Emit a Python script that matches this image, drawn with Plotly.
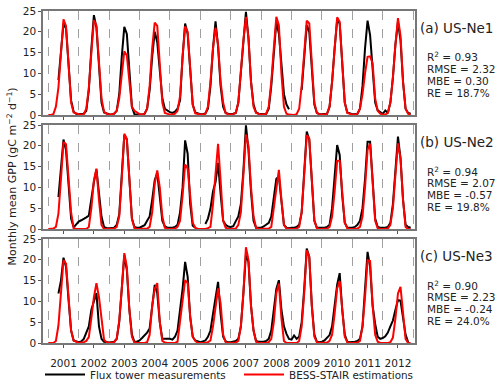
import plotly.graph_objects as go

N = None
years = list(range(2001, 2013))
months = list(range(12))
year_labels = [str(y) for y in years]
boundaries = list(range(2001, 2014))

# Monthly mean GPP (gC m-2 d-1), Jan..Dec for each year 2001-2012
ne1_flux = [
    N, N, N, N, 8.4, 16, 22, 20.8, 12, 3.5, 0.8, 0.3,
    0.2, 0.2, 0.3, 1, 6, 16, 24, 21, 12, 3, 0.6, 0.3,
    0.2, 0.1, 0.3, 1, 5, 14, 21.2, 19.5, 10, 2, 0.2, 0.1,
    0.1, 0.1, 0.3, 1.5, 6, 14, 20, 17.5, 10, 4, 1.5, 1.0,
    0.7, 0.5, 0.8, 1.5, 3.5, 14, 22, 19.5, 10, 2.5, 0.6, 0.3,
    0.2, 0.2, 0.4, 1.5, 7, 16, 22.5, 16.5, 7, 2, 0.5, 0.3,
    0.2, 0.3, 0.5, 3, 10, 19, 24.8, 18.5, 8, 2.5, 0.6, 0.3,
    0.2, 0.2, 0.3, 1.5, 7, 15, 22.4, 19.6, 12, 5, 2.5, 1.4,
    N, N, N, N, 6, 15, 21.6, 20, 11, 2.5, 0.5, 0.2,
    0.2, 0.2, 0.3, 2, 8, 16, 22.8, 22, 12, 3, 0.6, 0.3,
    0.2, 0.2, 0.3, 1.5, 7, 16, 22.7, 19.2, 10, 3, 1.1, 0.6,
    0.3, 1.1, 0.5, 3, 9, 17, 22.4, 18, 8, 1.5, 0.5, 0.3,
]
ne1_bess = [
    0, 0, 0.2, 2, 6.6, 15, 23, 21.4, 12, 3, 0.6, 0.3,
    0.2, 0.1, 0.2, 1.5, 6.5, 15, 22.8, 21.5, 13, 4, 0.8, 0.3,
    0.1, 0.1, 0.3, 1, 4, 10, 15.3, 14.3, 8, 2, 1, 0.5,
    0.2, 0.1, 0.3, 1.5, 7, 16, 22.2, 21.4, 12, 3, 0.5, 0.2,
    0.1, 0.1, 0.3, 1, 4.5, 14, 21.3, 20, 11, 2.5, 0.4, 0.2,
    0.1, 0.1, 0.3, 2, 8, 16, 21, 17, 8, 3, 0.4, 0.2,
    0.1, 0.2, 0.5, 3, 11, 18, 23.6, 18.5, 8, 2, 0.5, 0.2,
    0.1, 0.1, 0.3, 2, 8, 16, 23.6, 21.6, 10, 2, 0.3, 0.1,
    0, 0, 0.2, 1.5, 7, 15, 22.7, 22, 12, 3, 0.5, 0.2,
    0.1, 0.1, 0.3, 2, 8, 16, 23.5, 22.4, 12, 3, 0.5, 0.2,
    0.1, 0.1, 0.3, 1.5, 5, 10, 14, 14.1, 12.4, 4, 1, 0.3,
    0.1, 0.1, 0.5, 3, 9, 17, 23.3, 19, 8, 1.5, 0.3, 0,
]
ne2_flux = [
    N, N, N, N, 7.7, 15, 21.5, 18.9, 10, 2.5, 0.4, 1.0,
    1.8, 2.1, 2.4, 2.8, 3.2, 7.5, 11.3, 14.3, 9, 3, 0.5, 0.2,
    0.2, 0.2, 0.3, 1, 3.5, 13, 22.5, 21.5, 11, 2.5, 0.5, 0.3,
    0.3, 0.6, 0.9, 2, 3, 7, 11.7, 13.5, 8.5, 2, 0.6, 0.3,
    0.3, 0.3, 0.5, 1, 4, 10, 21.3, 18.1, 6, 0.8, 0.3, N,
    N, N, 1.2, 2.5, 4.9, 9, 11.3, 15.9, 8.5, 2, 1.0, 0.6,
    0.5, 0.7, 1.9, 3, 6, 14, 24.9, 19, 9, 2, 0.3, 0.3,
    0.3, 0.6, 1.0, 1.5, 3, 7.3, 12.1, 12.6, 6, 1, 0.3, 0.2,
    0.3, 0.3, 0.5, 1, 4, 13, 23.4, 21.4, 11, 2, 0.3, 0.3,
    0.3, 0.3, 0.5, 1, 5, 12, 20.2, 17.8, 8, 1.5, 0.3, 0.3,
    0.3, 0.5, 1, 2, 5, 12, 21, 21, 11, 2.5, 0.5, 0.3,
    0.3, 0.3, 0.5, 1.5, 6, 14, 22.2, 17, 7, 1, 0.5, 0.3,
]
ne2_bess = [
    0, 0, 0.1, 0.5, 3.7, 12, 20.9, 20.4, 12, 4, 0.2, 0,
    0, 0, 0, 0, 0.5, 5, 11.7, 14.5, 7, 1, 0, 0,
    0, 0, 0.1, 0.5, 3, 12, 22.9, 21.7, 11, 2.5, 0.2, 0,
    0, 0, 0, 0.1, 0.5, 4, 10.9, 14.1, 10, 3, 0.3, 0,
    0, 0, 0.1, 0.5, 2, 8, 15.5, 14.5, 7, 1.5, 0.3, 0,
    0, 0, 0, 0.2, 0.5, 6, 14.1, 20.5, 11.7, 2, 0.3, 0,
    0, 0, 0.1, 1, 4, 13, 22.7, 20, 10, 3, 0.3, 0,
    0, 0, 0, 0.1, 0.5, 5, 10, 14.2, 7, 1, 0.1, 0,
    0, 0, 0.1, 0.5, 4, 13, 22.6, 21.8, 11, 2, 0.2, 0,
    0, 0, 0.1, 0.5, 3, 9, 16.4, 16.4, 8, 1.5, 0.2, 0,
    0, 0, 0.1, 0.5, 3, 10, 19, 20.5, 11, 2, 0.2, 0,
    0, 0, 0.1, 1, 5, 13, 20.6, 17, 7, 0.5, 0, 0,
]
ne3_flux = [
    N, N, N, N, 11.9, 15, 20.5, 18.3, 10.3, 3, 0.6, 0.3,
    0.2, 0.4, 1, 2.5, 4, 8, 10, 12, 4, 1, 0.3, 0.2,
    0.1, 0.2, 0.3, 1, 5, 13, 21.1, 17.5, 8, 2, 0.3, 0.3,
    0.6, 1.2, 1.8, 2.5, 3.5, 9, 14, 12, 5, 1, 1, 1,
    1, 0.8, 1.5, 3, 7.9, 13, 19.5, 15.9, 6.3, 1.5, 0.6, 0.3,
    0.2, 0.4, 0.6, 1.5, 3, 7, 11, 14.7, 7, 1.5, 0.4, 0.2,
    0.2, 0.3, 0.5, 1, 4, 12, 21.4, 19.5, 9, 3, 0.5, 0.3,
    0.3, 0.3, 0.5, 1, 3, 7.5, 13, 15.1, 8, 4, 2.2, 1.0,
    0.8, 1.8, 1, 1.5, 5, 13, 22.7, 20.7, 9, 2, 0.3, 0.2,
    0.3, 0.6, 1.2, 1.9, 4, 9, 14, 16.8, 8, 2, 0.3, 0.2,
    0.2, 0.3, 0.5, 1, 4, 12, 21.9, 18.3, 9, 4.6, 1.5, 1.0,
    1.2, 1.6, 2.5, 4, 5.4, 8, 10.3, 10.2, 6, 2, 0.2, N,
]
ne3_bess = [
    0, 0, 0, 0.5, 4.2, 12, 19.9, 19.1, 10.3, 3, 0.6, 0.2,
    0, 0.1, 0.2, 0.5, 1.4, 6, 11, 14.4, 11, 6, 0.8, 0.2,
    0, 0.1, 0.2, 1, 5.4, 13, 21.6, 18.3, 8, 1.5, 0.1, 0,
    0, 0, 0, 0.2, 2, 9, 13, 14.4, 5, 0.5, 0.1, 0,
    0, 0, 0, 0.3, 5.4, 10, 15.1, 14.4, 6.3, 1.5, 0.5, 0,
    0, 0, 0, 0.2, 0.6, 4, 9, 13.1, 9.5, 2, 0.2, 0,
    0, 0, 0.1, 0.5, 4, 12, 23, 20, 9, 3, 0.3, 0,
    0, 0, 0, 0.2, 1, 5, 12, 14.3, 6, 0.5, 0, 0,
    0, 0, 0, 0.5, 4, 12, 22.3, 20.7, 9, 1.5, 0.2, 0,
    0, 0, 0.1, 0.5, 2, 7, 13.1, 14.9, 8, 1.5, 0.2, 0,
    0, 0, 0.1, 0.5, 4, 11, 19.9, 19.7, 9, 2, 0.3, 0,
    0, 0, 0, 0.2, 1.3, 6, 11.9, 13.5, 7, 1, 0, 0,
]

site_labels = ["(a) US-Ne1", "(b) US-Ne2", "(c) US-Ne3"]
r2_vals = ["0.93", "0.94", "0.90"]
rmse_vals = ["2.32", "2.07", "2.23"]
mbe_vals = ["0.30", "-0.57", "-0.24"]
re_vals = ["18.7%", "19.8%", "24.0%"]

W, H = 500, 383
FONT = "DejaVu Sans"
TXT = "#222222"
x = [y + m / 12 for y in years for m in months]
panels = [(ne1_flux, ne1_bess), (ne2_flux, ne2_bess), (ne3_flux, ne3_bess)]
tops = [11, 125, 239]
ph = 104

fig = go.Figure()
for i, (flux, bess) in enumerate(panels):
    sfx = "" if i == 0 else str(i + 1)
    fig.add_trace(go.Scatter(x=x, y=flux, mode="lines", name="Flux tower measurements",
                             line=dict(color="black", width=2), showlegend=(i == 0),
                             xaxis="x" + sfx, yaxis="y" + sfx, connectgaps=False))
    fig.add_trace(go.Scatter(x=x, y=bess, mode="lines", name="BESS-STAIR estimations",
                             line=dict(color="#ff0000", width=2), showlegend=(i == 0),
                             xaxis="x" + sfx, yaxis="y" + sfx))
    top = tops[i]
    dom = [1 - (top + ph) / H, 1 - top / H]
    fig.layout["xaxis" + sfx] = dict(
        domain=[43 / W, 415 / W], range=[2000.826, 2013.06], anchor="y" + sfx,
        tickmode="array", tickvals=[y + 0.5 for y in years],
        ticktext=year_labels, showticklabels=(i == 2),
        ticks="outside", ticklen=3, tickwidth=1, tickcolor="#555",
        ticklabelstandoff=7,
        showline=True, mirror=True, linecolor="#777", linewidth=1.5,
        showgrid=False, zeroline=False,
        tickfont=dict(family=FONT, size=10.5, color=TXT),
        minor=dict(tickmode="array", tickvals=boundaries, showgrid=True,
                   griddash="dash", gridcolor="#a0a0a0", gridwidth=1, ticks=""),
    )
    fig.layout["yaxis" + sfx] = dict(
        domain=dom, range=[0, 25], anchor="x" + sfx,
        tickmode="array", tickvals=[0, 5, 10, 15, 20, 25],
        ticks="outside", ticklen=3, tickwidth=1, tickcolor="#555",
        showline=True, mirror=True, linecolor="#777", linewidth=1.5,
        showgrid=False, zeroline=False,
        tickfont=dict(family=FONT, size=10.5, color=TXT),
    )
    fig.add_annotation(x=418 / W, y=1 - (top + 17) / H, xref="paper", yref="paper",
                       text=site_labels[i], showarrow=False, xanchor="left", yanchor="middle",
                       font=dict(family=FONT, size=13.5, color=TXT))
    stats = ["R<sup>2</sup> = " + r2_vals[i], "RMSE = " + rmse_vals[i],
             "MBE = " + mbe_vals[i], "RE = " + re_vals[i]]
    for j, s in enumerate(stats):
        fig.add_annotation(x=425 / W, y=1 - (top + 46 + 12 * j) / H, xref="paper", yref="paper",
                           text=s, showarrow=False, xanchor="left", yanchor="middle",
                           font=dict(family=FONT, size=10.5, color=TXT))

fig.add_annotation(x=12 / W, y=1 - 176.5 / H, xref="paper", yref="paper",
                   text="Monthly mean GPP (gC m<sup>\u22122</sup> d<sup>\u22121</sup>)",
                   textangle=-90, showarrow=False, xanchor="center", yanchor="middle",
                   font=dict(family=FONT, size=11, color=TXT))

fig.update_layout(
    width=W, height=H, margin=dict(l=0, r=0, t=0, b=0, autoexpand=False),
    paper_bgcolor="white", plot_bgcolor="white",
    showlegend=True,
    legend=dict(orientation="h", x=40 / W, y=1 - 374.5 / H, xanchor="left", yanchor="middle",
                font=dict(family=FONT, size=10.4, color=TXT), itemwidth=40,
                entrywidth=144, entrywidthmode="pixels",
                bgcolor="rgba(0,0,0,0)"),
)

fig.write_html("out.html", config={"displayModeBar": False},
               post_script="document.body.style.margin='0';document.body.style.padding='0';")
